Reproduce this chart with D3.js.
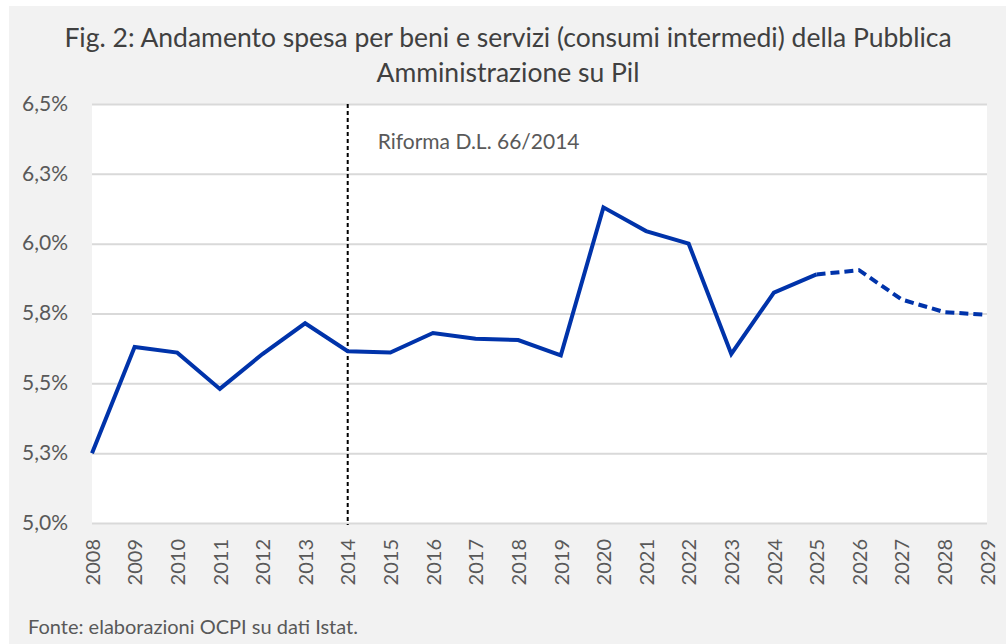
<!DOCTYPE html>
<html>
<head>
<meta charset="utf-8">
<script src="https://cdn.jsdelivr.net/npm/d3@7"></script>
<style>
	body { margin: 0; background: #ffffff; }
	svg text { font-family: Lato, "Open Sans", sans-serif; }
</style>
</head>
<body>
<svg id="chart" width="1006" height="644"></svg>
<script>
var years = [2008, 2009, 2010, 2011, 2012, 2013, 2014, 2015, 2016, 2017, 2018,
	2019, 2020, 2021, 2022, 2023, 2024, 2025, 2026, 2027, 2028, 2029];
var spesa = [5.25, 5.63, 5.61, 5.48, 5.605, 5.715, 5.615, 5.61, 5.68, 5.66, 5.655,
	5.60, 6.13, 6.045, 6.00, 5.605, 5.825, 5.89, 5.905, 5.80, 5.755, 5.745];
var firstForecast = 2025;
var yTicks = [5.0, 5.25, 5.5, 5.75, 6.0, 6.25, 6.5];
var reformYear = 2014;
var reformLabel = 'Riforma D.L. 66/2014';
var titleLines = ['Fig. 2: Andamento spesa per beni e servizi (consumi intermedi) della Pubblica',
	'Amministrazione su Pil'];
var sourceNote = 'Fonte: elaborazioni OCPI su dati Istat.';

var svg = d3.select('#chart');
var plot = { left: 92, right: 987, top: 104, bottom: 523 };

// gray card
svg.append('rect')
	.attr('x', 9).attr('y', 6)
	.attr('width', 997).attr('height', 638)
	.attr('fill', '#f2f2f2');

svg.append('rect')
	.attr('x', plot.left).attr('y', plot.top)
	.attr('width', plot.right - plot.left).attr('height', plot.bottom - plot.top)
	.attr('fill', '#ffffff');

var x = d3.scaleLinear().domain([years[0], years[years.length - 1]]).range([plot.left, plot.right]);
var y = d3.scaleLinear().domain([5.0, 6.5]).range([plot.bottom, plot.top]);

// title
svg.selectAll('.title').data(titleLines).enter().append('text')
	.attr('class', 'title')
	.attr('x', 508)
	.attr('y', function(d, i) { return 47 + i * 35; })
	.attr('text-anchor', 'middle')
	.attr('font-size', 26.5)
	.attr('fill', '#404040')
	.text(function(d) { return d; });

// grid + y axis
var yAxis = d3.axisLeft(y)
	.tickValues(yTicks)
	.tickSize(-(plot.right - plot.left))
	.tickPadding(24)
	.tickFormat(function(d) { return d3.format('.1f')(d).replace('.', ',') + '%'; });

var gy = svg.append('g')
	.attr('transform', 'translate(' + plot.left + ',0)')
	.call(yAxis);
gy.select('.domain').remove();
gy.selectAll('.tick line').attr('stroke', '#d9d9d9').attr('stroke-width', 2);
gy.selectAll('.tick text')
	.attr('font-size', 21)
	.attr('fill', '#595959')
	.attr('dy', '0.3em');

// x axis labels
var xAxis = d3.axisBottom(x)
	.tickValues(years)
	.tickSize(0)
	.tickFormat(d3.format('d'));

var gx = svg.append('g')
	.attr('transform', 'translate(0,' + plot.bottom + ')')
	.call(xAxis);
gx.select('.domain').remove();
gx.selectAll('.tick text')
	.attr('font-size', 20)
	.attr('fill', '#595959')
	.attr('text-anchor', 'end')
	.attr('transform', 'rotate(-90)')
	.attr('x', -16)
	.attr('y', 0)
	.attr('dy', '0.36em');

// reform marker
svg.append('line')
	.attr('x1', x(reformYear)).attr('x2', x(reformYear))
	.attr('y1', plot.top).attr('y2', plot.bottom + 2)
	.attr('stroke', '#000000')
	.attr('stroke-width', 2)
	.attr('stroke-dasharray', '4,3');

svg.append('text')
	.attr('x', x(reformYear) + 30)
	.attr('y', 149)
	.attr('font-size', 21)
	.attr('fill', '#595959')
	.text(reformLabel);

// series
var points = years.map(function(yr, i) { return { year: yr, value: spesa[i] }; });
var line = d3.line()
	.x(function(d) { return x(d.year); })
	.y(function(d) { return y(d.value); });

svg.append('path')
	.datum(points.filter(function(d) { return d.year <= firstForecast; }))
	.attr('d', line)
	.attr('fill', 'none')
	.attr('stroke', '#0033aa')
	.attr('stroke-width', 4)
	.attr('stroke-linejoin', 'miter');

svg.append('path')
	.datum(points.filter(function(d) { return d.year >= firstForecast; }))
	.attr('d', line)
	.attr('fill', 'none')
	.attr('stroke', '#0033aa')
	.attr('stroke-width', 4)
	.attr('stroke-dasharray', '9,5');

// source
svg.append('text')
	.attr('x', 28)
	.attr('y', 634)
	.attr('font-size', 20)
	.attr('fill', '#595959')
	.text(sourceNote);
</script>
</body>
</html>
